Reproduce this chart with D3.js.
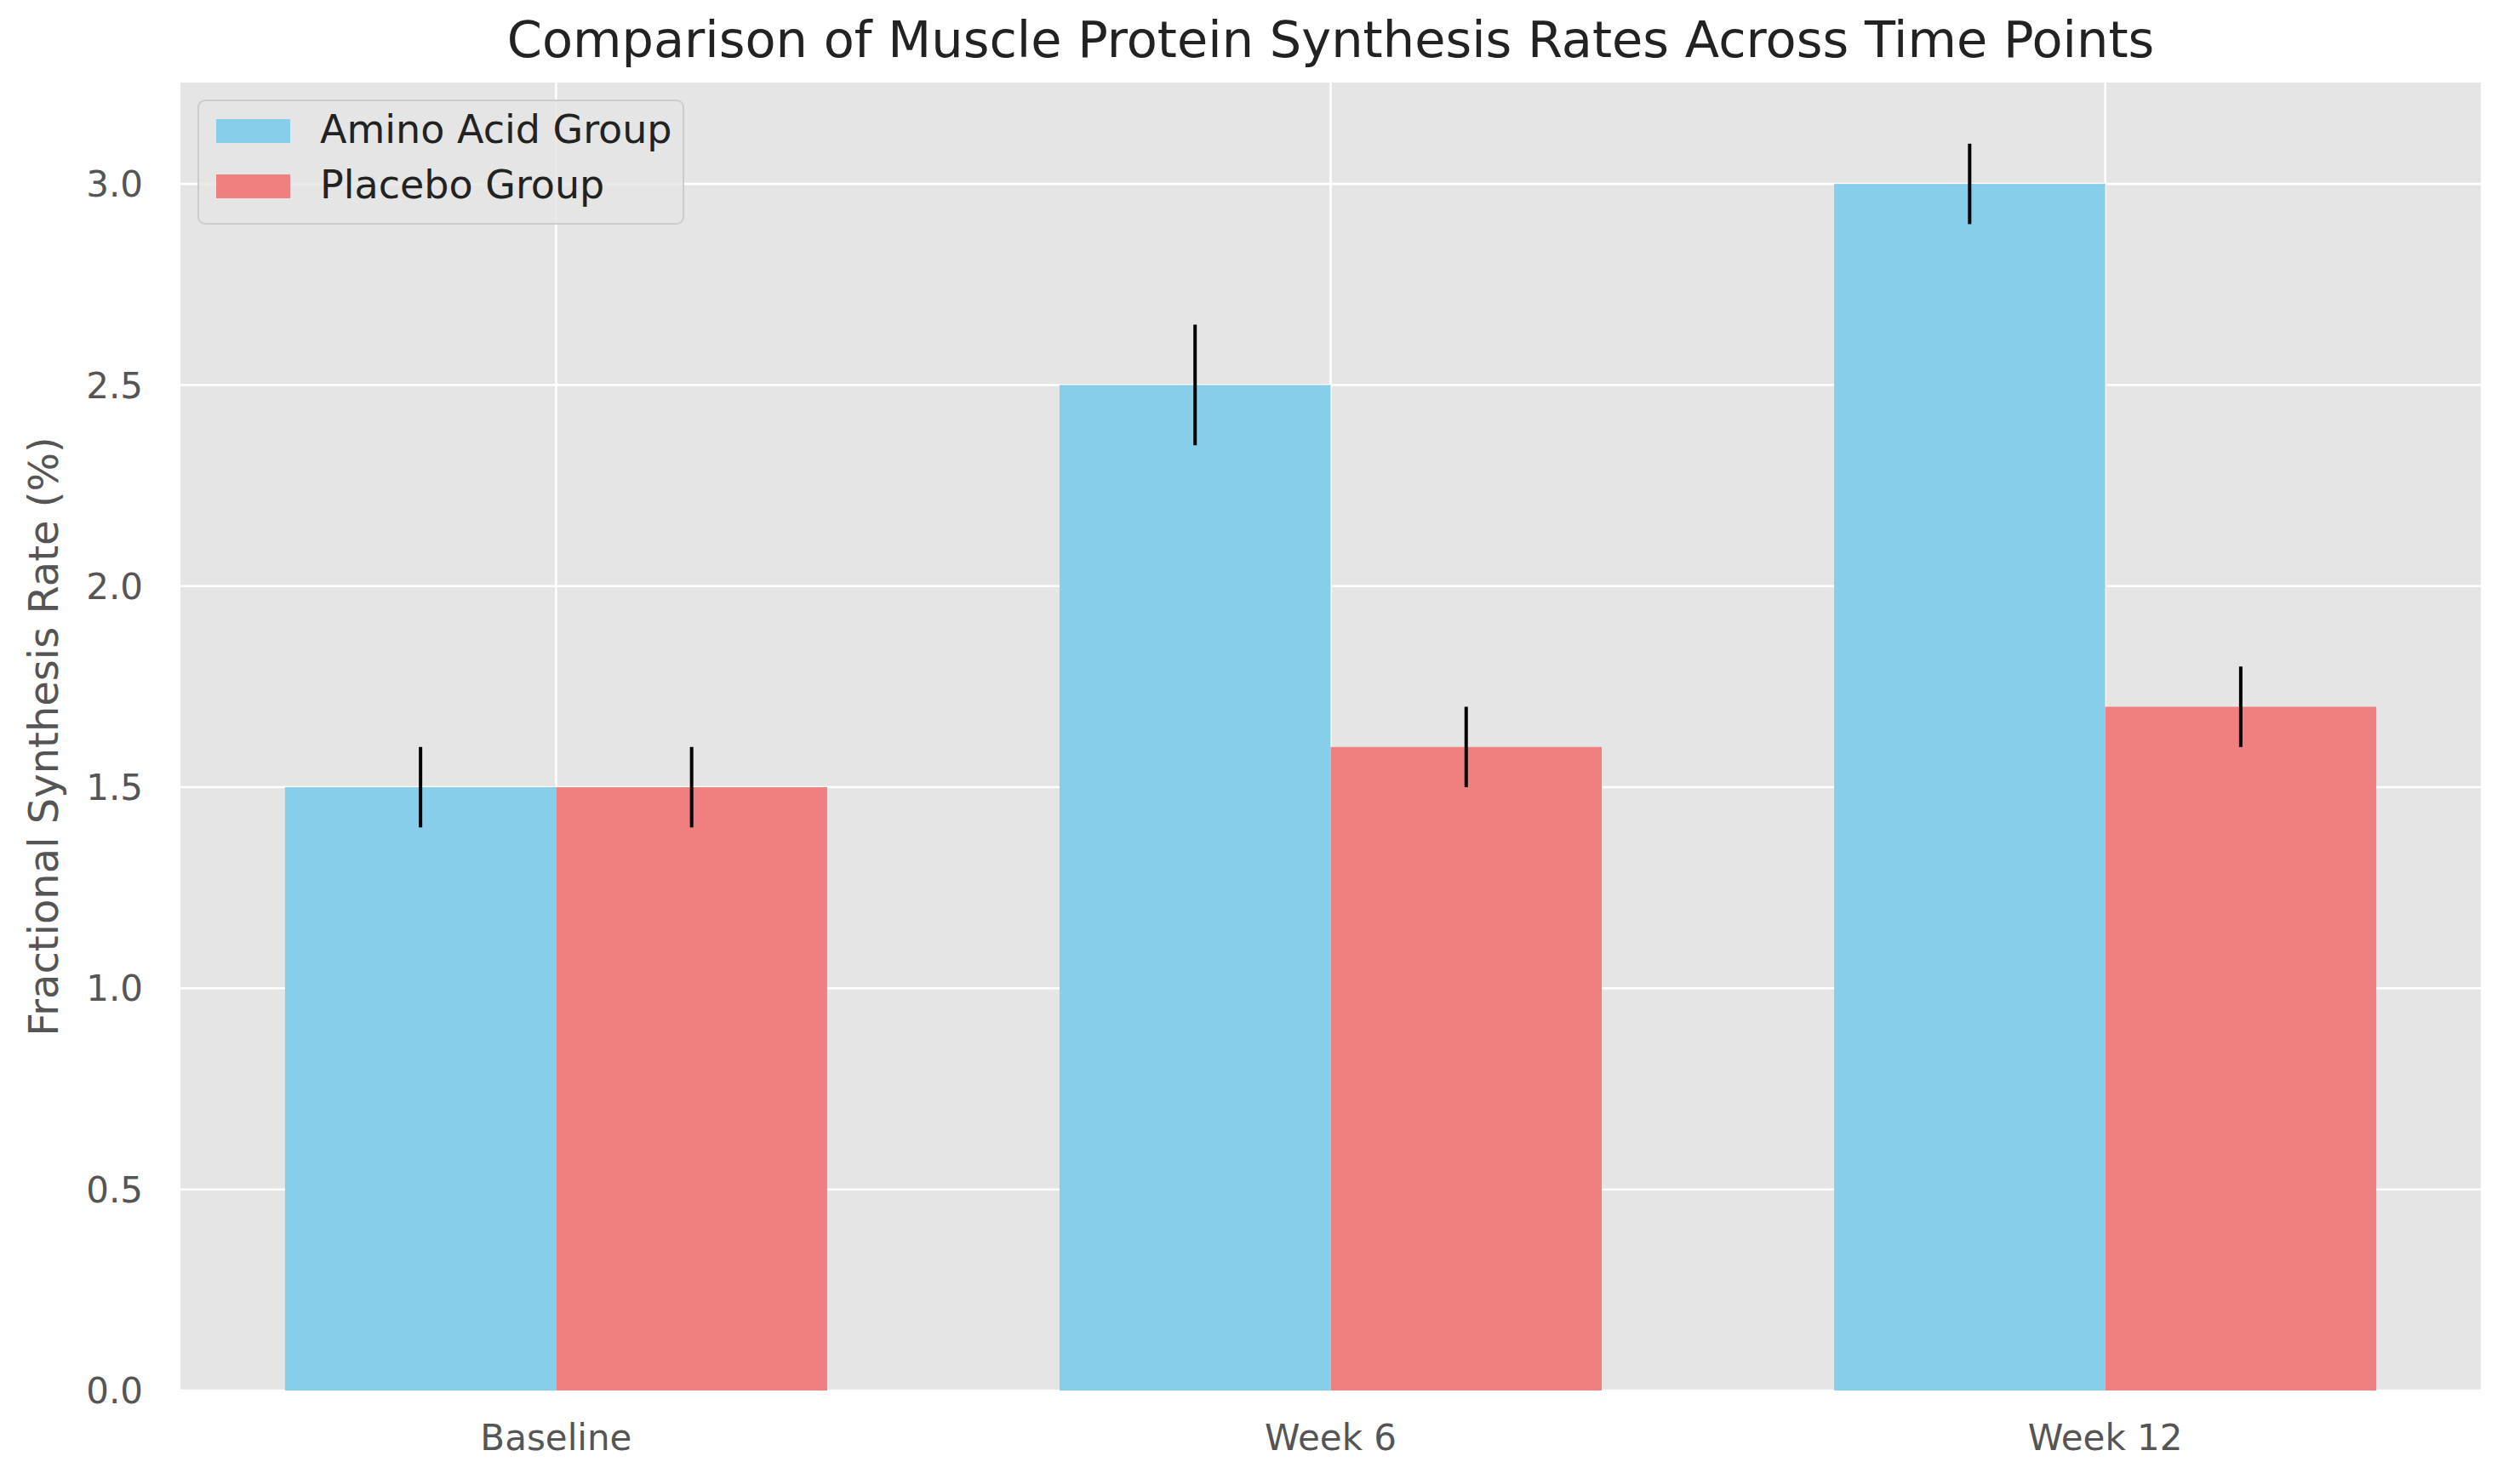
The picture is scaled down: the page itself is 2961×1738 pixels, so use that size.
<!DOCTYPE html>
<html>
<head>
<meta charset="utf-8">
<script src="https://cdn.jsdelivr.net/npm/d3@7"></script>
<style>
  body { margin: 0; background: #fff; }
  text { font-family: "DejaVu Sans", sans-serif; }
</style>
</head>
<body>
<div id="chart"></div>
<script>
// data
var timePoints = ["Baseline", "Week 6", "Week 12"];
var aminoMeans = [1.5, 2.5, 3.0];
var aminoErr = [0.1, 0.15, 0.1];
var placeboMeans = [1.5, 1.6, 1.7];
var placeboErr = [0.1, 0.1, 0.1];
var yTicks = [0.0, 0.5, 1.0, 1.5, 2.0, 2.5, 3.0];
var seriesNames = ["Amino Acid Group", "Placebo Group"];
var seriesColors = ["#87CEEB", "#F08080"];

var W = 2961, H = 1738;
var plot = {left: 212, right: 2915, top: 97, bottom: 1634};
var barW = 0.35;

var svg = d3.select("#chart").append("svg")
	.attr("width", W)
	.attr("height", H);

// x as numeric positions, like matplotlib bar positions
var x = d3.scaleLinear()
	.domain([-0.485, timePoints.length - 1 + 0.485])
	.range([plot.left, plot.right]);
var y = d3.scaleLinear()
	.domain([0, 3.252])
	.range([plot.bottom, plot.top]);

svg.append("rect")
	.attr("x", plot.left).attr("y", plot.top)
	.attr("width", plot.right - plot.left)
	.attr("height", plot.bottom - plot.top)
	.attr("fill", "#E5E5E5");

// grid
var grid = svg.append("g").attr("stroke", "#fff").attr("stroke-width", 2.6);
grid.selectAll(".hg").data(yTicks).enter().append("line")
	.attr("x1", plot.left).attr("x2", plot.right)
	.attr("y1", function(d){ return y(d); })
	.attr("y2", function(d){ return y(d); });
grid.selectAll(".vg").data(timePoints).enter().append("line")
	.attr("y1", plot.top).attr("y2", plot.bottom)
	.attr("x1", function(d, i){ return x(i); })
	.attr("x2", function(d, i){ return x(i); });

var series = [
	{means: aminoMeans, err: aminoErr, offset: -barW / 2, color: seriesColors[0]},
	{means: placeboMeans, err: placeboErr, offset: barW / 2, color: seriesColors[1]}
];

series.forEach(function(s) {
	var g = svg.append("g");
	g.selectAll("rect").data(s.means).enter().append("rect")
		.attr("x", function(d, i){ return x(i + s.offset - barW / 2); })
		.attr("width", function(d, i){ return x(i + s.offset + barW / 2) - x(i + s.offset - barW / 2); })
		.attr("y", function(d){ return y(d); })
		.attr("height", function(d){ return y(0) - y(d); })
		.attr("fill", s.color);
	g.selectAll("line").data(s.means).enter().append("line")
		.attr("x1", function(d, i){ return x(i + s.offset); })
		.attr("x2", function(d, i){ return x(i + s.offset); })
		.attr("y1", function(d, i){ return y(d - s.err[i]); })
		.attr("y2", function(d, i){ return y(d + s.err[i]); })
		.attr("stroke", "#000")
		.attr("stroke-width", 4);
});

// y axis labels
svg.append("g").selectAll("text").data(yTicks).enter().append("text")
	.attr("x", 168)
	.attr("y", function(d){ return y(d); })
	.attr("dy", "0.36em")
	.attr("text-anchor", "end")
	.attr("font-size", 42)
	.attr("fill", "#555")
	.text(function(d){ return d3.format(".1f")(d); });

// x axis labels
svg.append("g").selectAll("text").data(timePoints).enter().append("text")
	.attr("x", function(d, i){ return x(i); })
	.attr("y", 1704)
	.attr("text-anchor", "middle")
	.attr("font-size", 42)
	.attr("fill", "#555")
	.text(function(d){ return d; });

svg.append("text")
	.attr("transform", "translate(" + 68 + "," + ((plot.top + plot.bottom) / 2) + ") rotate(-90)")
	.attr("text-anchor", "middle")
	.attr("font-size", 48)
	.attr("fill", "#555")
	.text("Fractional Synthesis Rate (%)");

svg.append("text")
	.attr("x", (plot.left + plot.right) / 2)
	.attr("y", 67)
	.attr("text-anchor", "middle")
	.attr("font-size", 59)
	.attr("fill", "#222")
	.text("Comparison of Muscle Protein Synthesis Rates Across Time Points");

// legend
var legend = svg.append("g").attr("transform", "translate(233,118)");
legend.append("rect")
	.attr("width", 570).attr("height", 145)
	.attr("rx", 8)
	.attr("fill", "#E5E5E5")
	.attr("fill-opacity", 0.8)
	.attr("stroke", "#CCCCCC")
	.attr("stroke-width", 2);
seriesNames.forEach(function(name, i) {
	legend.append("rect")
		.attr("x", 21).attr("y", 22 + i * 65)
		.attr("width", 87).attr("height", 28)
		.attr("fill", seriesColors[i]);
	legend.append("text")
		.attr("x", 143).attr("y", 50 + i * 65)
		.attr("font-size", 46)
		.attr("fill", "#222")
		.text(name);
});
</script>
</body>
</html>
